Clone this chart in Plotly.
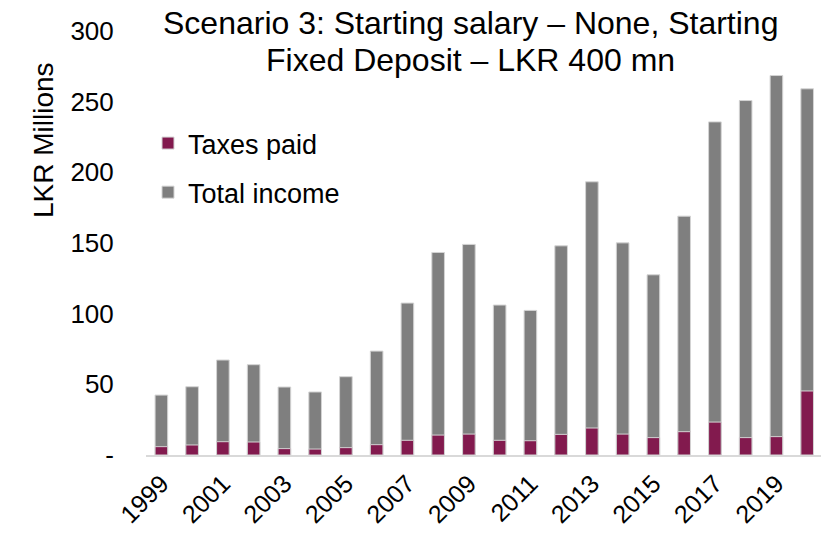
import plotly.graph_objects as go

# Yearly figures, LKR millions
years = [str(y) for y in range(1999, 2021)]
total_income = [42.4, 48.3, 67.2, 63.9, 48.1, 44.6, 55.4, 73.5, 107.5, 143.3, 149.0,
                106.1, 102.3, 148.0, 193.3, 150.1, 127.5, 169.0, 235.7, 250.8, 268.5, 259.1]
taxes_paid = [5.9, 7.1, 9.4, 9.2, 4.5, 4.2, 5.2, 7.3, 10.4, 14.1, 14.8,
              10.4, 10.1, 14.6, 19.1, 14.8, 12.3, 16.5, 23.3, 12.3, 13.0, 45.3]

y_tick_vals = [0, 50, 100, 150, 200, 250, 300]
y_tick_text = ["-", "50", "100", "150", "200", "250", "300"]
x_tick_vals = years[::2]

FONT = "Arial, Liberation Sans, sans-serif"
GREY = "#7f7f7f"
MAROON = "#821a4e"
EDGE = "#d4d4d4"

# plot-area pixel geometry used to place free text
L, T, B = 146, 31, 79
PW, PH = 821 - L, 534 - T - B


def px(x):
    return (x - L) / PW


def py(y):
    return (534 - B - y) / PH


fig = go.Figure()
fig.add_trace(go.Bar(
    x=years, y=total_income, name="Total income",
    marker=dict(color=GREY, line=dict(color=EDGE, width=1)),
    width=0.41, legendgroup="b", legendrank=2,
))
fig.add_trace(go.Bar(
    x=years, y=taxes_paid, name="Taxes paid",
    marker=dict(color=MAROON, line=dict(color=EDGE, width=1)),
    width=0.41, legendgroup="a", legendrank=1,
))

fig.update_layout(
    width=821, height=534,
    margin=dict(l=L, r=0, t=T, b=B, autoexpand=False),
    paper_bgcolor="white", plot_bgcolor="white",
    barmode="overlay",
    font=dict(family=FONT, color="#000000", size=26),
    showlegend=True,
    legend=dict(
        x=px(148), y=py(119), xanchor="left", yanchor="top",
        font=dict(size=27, family=FONT), bgcolor="rgba(0,0,0,0)",
        traceorder="grouped", tracegroupgap=11,
    ),
    xaxis=dict(
        type="category", range=[-0.5, 21.45],
        tickmode="array", tickvals=x_tick_vals, ticktext=x_tick_vals,
        tickangle=-45, tickfont=dict(size=25),
        showline=True, linecolor="#d9d9d9", linewidth=2,
        showgrid=False, zeroline=False,
        ticks="outside", ticklen=2, tickcolor="rgba(0,0,0,0)",
    ),
    yaxis=dict(
        range=[0, 300], tickmode="array", tickvals=y_tick_vals, ticktext=y_tick_text,
        tickfont=dict(size=26), showgrid=False, zeroline=False, showline=False,
        ticks="outside", ticklen=26, tickcolor="rgba(0,0,0,0)",
    ),
    annotations=[
        dict(text="Scenario 3: Starting salary \u2013 None, Starting",
             xref="paper", yref="paper", x=px(470), y=py(23),
             xanchor="center", yanchor="middle", showarrow=False,
             font=dict(size=32, family=FONT)),
        dict(text="Fixed Deposit \u2013 LKR 400 mn",
             xref="paper", yref="paper", x=px(470), y=py(59.5),
             xanchor="center", yanchor="middle", showarrow=False,
             font=dict(size=32, family=FONT)),
        dict(text="LKR Millions", textangle=-90,
             xref="paper", yref="paper", x=px(43), y=py(140),
             xanchor="center", yanchor="middle", showarrow=False,
             font=dict(size=28, family=FONT)),
    ],
)

fig.write_html("out.html")
